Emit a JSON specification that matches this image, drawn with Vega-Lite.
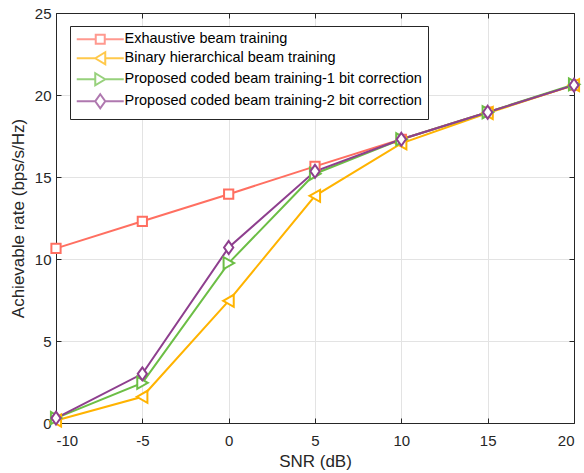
{
  "$schema": "https://vega.github.io/schema/vega-lite/v6.json",
  "width": 518,
  "height": 410,
  "autosize": {"type": "none"},
  "padding": {"left": 56, "top": 13, "right": 10, "bottom": 50},
  "background": "white",
  "config": {
    "view": {"stroke": null},
    "font": "Liberation Sans",
    "axis": {
      "domainColor": "#262626",
      "domainWidth": 1,
      "tickColor": "#262626",
      "tickWidth": 1,
      "labelColor": "#262626",
      "labelFont": "Liberation Sans",
      "labelFontSize": 15,
      "titleFont": "Liberation Sans",
      "titleFontSize": 17,
      "titleFontWeight": "normal",
      "titleColor": "#262626",
      "gridColor": "#e3e3e3",
      "gridWidth": 1
    },
    "legend": {
      "labelFont": "Liberation Sans",
      "labelFontSize": 14.5,
      "labelColor": "#000000",
      "strokeColor": "#262626",
      "fillColor": "white",
      "padding": 6,
      "rowPadding": 0,
      "symbolOffset": 17,
      "labelOffset": 17,
      "symbolStrokeWidth": 2,
      "symbolSize": 100,
      "labelLimit": 400
    }
  },
  "data": {
    "values": [
      {"snr": -10, "rate": 10.65, "series": "Exhaustive beam training"},
      {"snr": -5, "rate": 12.3, "series": "Exhaustive beam training"},
      {"snr": 0, "rate": 13.95, "series": "Exhaustive beam training"},
      {"snr": 5, "rate": 15.65, "series": "Exhaustive beam training"},
      {"snr": 10, "rate": 17.3, "series": "Exhaustive beam training"},
      {"snr": 15, "rate": 18.95, "series": "Exhaustive beam training"},
      {"snr": 20, "rate": 20.6, "series": "Exhaustive beam training"},
      {"snr": -10, "rate": 0.15, "series": "Binary hierarchical beam training"},
      {"snr": -5, "rate": 1.6, "series": "Binary hierarchical beam training"},
      {"snr": 0, "rate": 7.45, "series": "Binary hierarchical beam training"},
      {"snr": 5, "rate": 13.85, "series": "Binary hierarchical beam training"},
      {"snr": 10, "rate": 17.05, "series": "Binary hierarchical beam training"},
      {"snr": 15, "rate": 18.9, "series": "Binary hierarchical beam training"},
      {"snr": 20, "rate": 20.6, "series": "Binary hierarchical beam training"},
      {"snr": -10, "rate": 0.3, "series": "Proposed coded beam training-1 bit correction"},
      {"snr": -5, "rate": 2.45, "series": "Proposed coded beam training-1 bit correction"},
      {"snr": 0, "rate": 9.75, "series": "Proposed coded beam training-1 bit correction"},
      {"snr": 5, "rate": 15.2, "series": "Proposed coded beam training-1 bit correction"},
      {"snr": 10, "rate": 17.3, "series": "Proposed coded beam training-1 bit correction"},
      {"snr": 15, "rate": 18.95, "series": "Proposed coded beam training-1 bit correction"},
      {"snr": 20, "rate": 20.65, "series": "Proposed coded beam training-1 bit correction"},
      {"snr": -10, "rate": 0.3, "series": "Proposed coded beam training-2 bit correction"},
      {"snr": -5, "rate": 3.0, "series": "Proposed coded beam training-2 bit correction"},
      {"snr": 0, "rate": 10.7, "series": "Proposed coded beam training-2 bit correction"},
      {"snr": 5, "rate": 15.35, "series": "Proposed coded beam training-2 bit correction"},
      {"snr": 10, "rate": 17.3, "series": "Proposed coded beam training-2 bit correction"},
      {"snr": 15, "rate": 18.95, "series": "Proposed coded beam training-2 bit correction"},
      {"snr": 20, "rate": 20.6, "series": "Proposed coded beam training-2 bit correction"}
    ]
  },
  "layer": [
    {
      "mark": {"type": "line", "strokeWidth": 2},
      "encoding": {
        "x": {"field": "snr", "type": "quantitative", "scale": {"domain": [-10, 20], "nice": false, "zero": false},
          "axis": {"orient": "bottom", "values": [-10, -5, 0, 5, 10, 15, 20], "labelExpr": "toString(datum.value)", "grid": true, "tickSize": -5, "labelPadding": 15, "title": "SNR (dB)", "titlePadding": 5}},
        "y": {"field": "rate", "type": "quantitative", "scale": {"domain": [0, 25], "nice": false},
          "axis": {"orient": "left", "values": [0, 5, 10, 15, 20, 25], "labelExpr": "toString(datum.value)", "grid": true, "tickSize": -5, "labelPadding": 10, "title": "Achievable rate (bps/s/Hz)", "titlePadding": 7}},
        "color": {"field": "series", "type": "nominal", "legend": null,
          "scale": {"domain": ["Exhaustive beam training", "Binary hierarchical beam training", "Proposed coded beam training-1 bit correction", "Proposed coded beam training-2 bit correction"],
            "range": ["#FF6F61", "#FFB300", "#6CBE45", "#8E3F8E"]}},
        "detail": {"field": "series"}
      }
    },
    {
      "mark": {"type": "point", "filled": false, "fill": "white", "fillOpacity": 1, "strokeWidth": 2, "size": 85, "opacity": 1},
      "encoding": {
        "x": {"field": "snr", "type": "quantitative",
          "axis": {"orient": "top", "values": [-10, -5, 0, 5, 10, 15, 20], "labels": false, "grid": false, "tickSize": -5, "title": null}},
        "y": {"field": "rate", "type": "quantitative",
          "axis": {"orient": "right", "values": [0, 5, 10, 15, 20, 25], "labels": false, "grid": false, "tickSize": -5, "title": null}},
        "color": {"field": "series", "type": "nominal", "legend": null,
          "scale": {"domain": ["Exhaustive beam training", "Binary hierarchical beam training", "Proposed coded beam training-1 bit correction", "Proposed coded beam training-2 bit correction"],
            "range": ["#FF6F61", "#FFB300", "#6CBE45", "#8E3F8E"]}},
        "shape": {"field": "series", "type": "nominal", "legend": null,
          "scale": {"domain": ["Exhaustive beam training", "Binary hierarchical beam training", "Proposed coded beam training-1 bit correction", "Proposed coded beam training-2 bit correction"],
            "range": ["square", "M-1.2,0L1.1,-1.3L1.1,1.3Z", "M1.2,0L-1.1,-1.3L-1.1,1.3Z", "M0,-1.4L1,0L0,1.4L-1,0Z"]}}
      }
    },
    {
      "transform": [{"filter": "false"}],
      "mark": {"type": "point", "filled": false, "strokeWidth": 2, "size": 100},
      "encoding": {
        "x": {"field": "snr", "type": "quantitative", "axis": null},
        "y": {"field": "rate", "type": "quantitative", "axis": null},
        "color": {"field": "series", "type": "nominal",
          "legend": {"title": null, "orient": "none", "legendX": 14, "legendY": 13},
          "scale": {"domain": ["Exhaustive beam training", "Binary hierarchical beam training", "Proposed coded beam training-1 bit correction", "Proposed coded beam training-2 bit correction"],
            "range": ["#FF6F61", "#FFB300", "#6CBE45", "#8E3F8E"]}},
        "shape": {"field": "series", "type": "nominal",
          "legend": {"title": null, "orient": "none", "legendX": 14, "legendY": 13},
          "scale": {"domain": ["Exhaustive beam training", "Binary hierarchical beam training", "Proposed coded beam training-1 bit correction", "Proposed coded beam training-2 bit correction"],
            "range": ["M-4.7,0H-0.9M0.9,0H4.7M-0.9,-0.9H0.9V0.9H-0.9Z", "M-4.7,0H-1M1,0H4.7M-1,0L1,-1.2L1,1.2Z", "M-4.7,0H-1M1,0H4.7M1,0L-1,-1.2L-1,1.2Z", "M-4.7,0H-1M1,0H4.7M0,-1.4L1,0L0,1.4L-1,0Z"]}}
      }
    }
  ],
  "resolve": {
    "scale": {"color": "independent", "shape": "independent"},
    "axis": {"x": "independent", "y": "independent"},
    "legend": {"color": "independent", "shape": "independent"}
  }
}
